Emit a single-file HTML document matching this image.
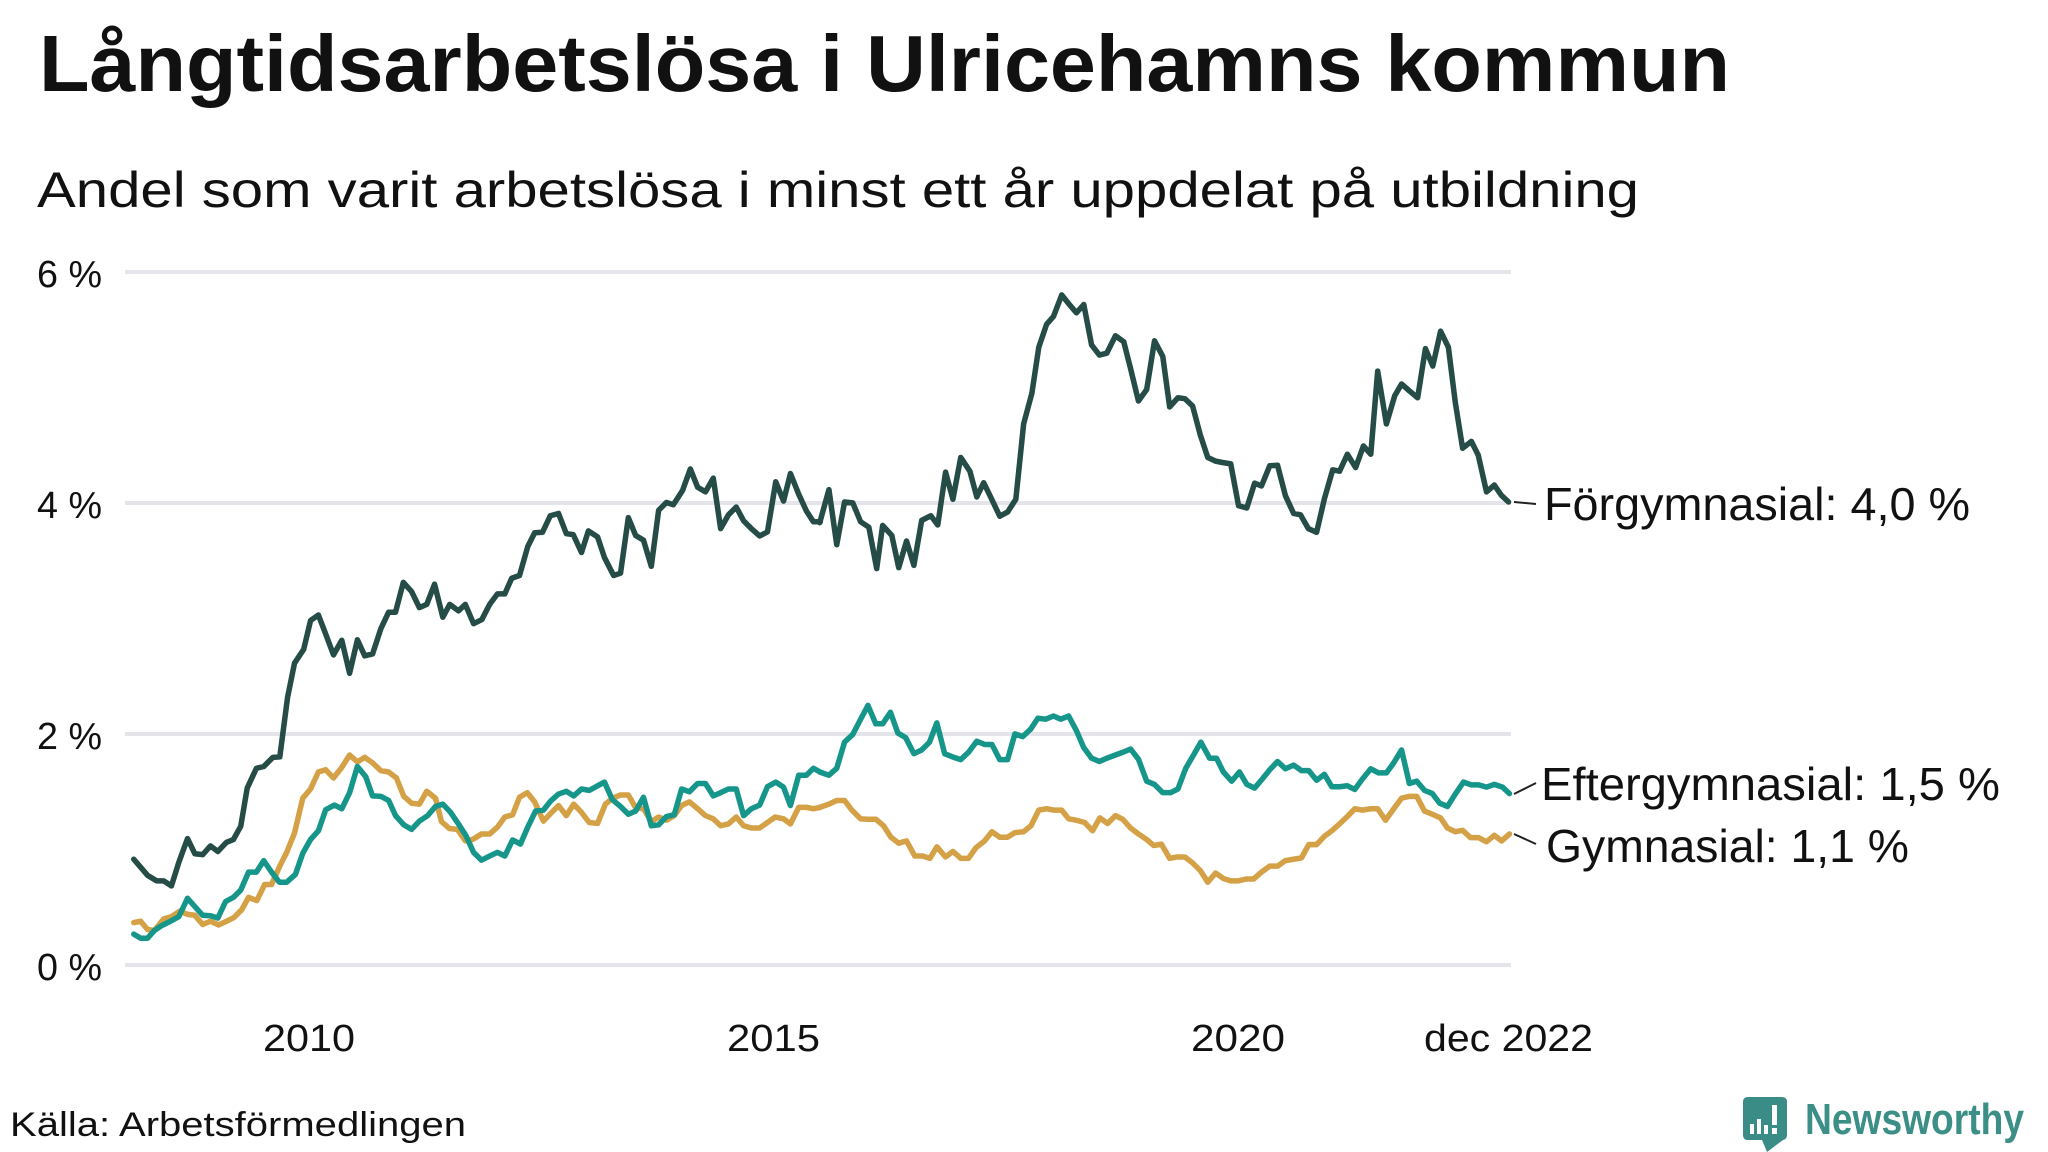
<!DOCTYPE html>
<html><head><meta charset="utf-8"><style>
html,body{margin:0;padding:0;background:#fff;}
svg{display:block;}
text{font-family:"Liberation Sans",sans-serif;}
</style></head><body>
<svg width="2048" height="1152" viewBox="0 0 2048 1152" xmlns="http://www.w3.org/2000/svg">
<rect width="2048" height="1152" fill="#fff"/>
<text x="39" y="91" font-size="80" font-weight="bold" fill="#111" textLength="1691" lengthAdjust="spacingAndGlyphs">Långtidsarbetslösa i Ulricehamns kommun</text>
<text x="37" y="207" font-size="50" fill="#111" textLength="1602" lengthAdjust="spacingAndGlyphs">Andel som varit arbetslösa i minst ett år uppdelat på utbildning</text>
<g stroke="#e4e4ea" stroke-width="4">
<line x1="125" y1="272" x2="1511" y2="272"/>
<line x1="125" y1="503" x2="1511" y2="503"/>
<line x1="125" y1="734" x2="1511" y2="734"/>
<line x1="125" y1="965" x2="1511" y2="965"/>
</g>
<g font-size="38" fill="#111">
<text x="37" y="287" textLength="65" lengthAdjust="spacingAndGlyphs">6 %</text>
<text x="37" y="518" textLength="65" lengthAdjust="spacingAndGlyphs">4 %</text>
<text x="37" y="749" textLength="65" lengthAdjust="spacingAndGlyphs">2 %</text>
<text x="37" y="980" textLength="65" lengthAdjust="spacingAndGlyphs">0 %</text>
<text x="263" y="1051" textLength="92" lengthAdjust="spacingAndGlyphs">2010</text>
<text x="727" y="1051" textLength="93" lengthAdjust="spacingAndGlyphs">2015</text>
<text x="1191" y="1051" textLength="94" lengthAdjust="spacingAndGlyphs">2020</text>
<text x="1424" y="1051" textLength="169" lengthAdjust="spacingAndGlyphs">dec 2022</text>
</g>
<g fill="none" stroke-width="12" stroke-linejoin="round" stroke-linecap="round">
<g transform="translate(120,260) scale(0.4592)">
<polyline stroke="#d4a146" points="30,1443 45,1440 60,1458 75,1460 95,1435 112,1430 130,1418 147,1425 163,1427 180,1447 197,1440 215,1448 232,1440 248,1432 265,1415 280,1388 298,1395 315,1360 330,1360 347,1322 363,1290 380,1248 398,1172 415,1152 432,1115 448,1110 465,1128 483,1105 500,1078 517,1093 533,1083 550,1095 568,1112 585,1115 602,1128 618,1168 635,1183 652,1185 668,1157 687,1172 700,1223 717,1238 735,1240 752,1265 768,1262 787,1250 805,1250 822,1235 838,1213 855,1208 870,1170 887,1160 903,1180 922,1222 938,1205 955,1188 972,1210 988,1185 1005,1203 1022,1225 1040,1227 1057,1185 1073,1172 1090,1165 1107,1165 1123,1193 1140,1195 1157,1223 1173,1213 1190,1220 1207,1210 1223,1188 1240,1180 1258,1195 1275,1210 1292,1217 1308,1232 1325,1228 1342,1213 1358,1232 1375,1237 1393,1237 1410,1225 1427,1213 1445,1217 1460,1228 1478,1192 1495,1192 1510,1195 1525,1192"/>
<polyline stroke="#16968a" points="30,1468 45,1477 60,1477 75,1460 90,1450 110,1440 128,1430 147,1390 163,1408 180,1427 197,1428 213,1433 230,1397 247,1388 263,1372 280,1333 297,1333 313,1308 330,1333 347,1355 363,1355 382,1338 398,1292 415,1262 432,1243 448,1197 467,1187 483,1195 500,1160 517,1103 535,1125 550,1167 568,1168 585,1177 600,1210 618,1230 635,1240 652,1222 670,1210 687,1190 703,1185 720,1203 737,1228 753,1253 770,1290 787,1307 805,1298 822,1290 838,1298 855,1263 872,1272 888,1235 905,1200 922,1198 938,1178 955,1163 972,1157 988,1167 1005,1152 1022,1155 1040,1145 1055,1137 1072,1175 1090,1190 1107,1207 1123,1200 1140,1170 1157,1232 1173,1230 1190,1212 1207,1208 1223,1152 1240,1158 1258,1140 1275,1140 1292,1167 1308,1160 1325,1152 1342,1152 1358,1210 1375,1195 1393,1187 1410,1147 1428,1137 1445,1148 1460,1188 1478,1122 1495,1122 1510,1107 1525,1115"/>
<polyline stroke="#254c46" points="30,1305 60,1340 80,1352 95,1352 112,1363 128,1312 147,1260 163,1293 180,1295 197,1276 213,1288 232,1268 247,1262 263,1233 277,1150 297,1107 313,1103 333,1083 348,1082 365,952 380,878 400,848 415,785 432,773 447,812 465,860 483,828 500,900 517,827 533,862 550,858 568,803 585,767 600,767 617,702 635,722 652,757 668,750 685,706 703,778 718,750 737,764 752,750 770,792 788,783 805,750 822,727 838,727 853,693 870,687 888,624 903,594 920,593 937,557 955,552 972,596 987,598 1005,637 1020,590 1040,603 1055,648 1075,687 1090,682 1107,561 1123,600 1140,610 1157,667 1173,545 1190,528 1205,533 1225,502 1242,455 1258,495 1275,505 1292,475 1308,585 1325,555 1342,538 1358,568 1375,585 1393,601 1410,592 1428,483 1445,525 1460,465 1478,510 1495,547 1510,570 1525,570"/>
</g>
<g transform="translate(800,260) scale(0.4592)">
<polyline stroke="#d4a146" points="43,1192 63,1185 80,1177 97,1177 113,1198 132,1217 148,1218 165,1218 182,1232 198,1257 215,1270 232,1265 250,1298 267,1298 283,1303 298,1278 317,1300 333,1288 350,1303 367,1303 383,1280 402,1265 418,1245 435,1257 452,1257 468,1247 487,1245 503,1232 520,1198 537,1195 553,1198 570,1198 585,1217 602,1220 620,1225 637,1243 653,1215 670,1227 687,1210 703,1218 720,1237 737,1250 755,1262 770,1275 787,1272 805,1303 822,1300 838,1300 855,1313 872,1330 888,1355 905,1335 922,1347 938,1352 955,1352 972,1348 988,1348 1005,1333 1023,1320 1040,1320 1057,1308 1075,1305 1092,1302 1108,1273 1125,1273 1142,1255 1158,1243 1175,1228 1192,1212 1208,1195 1225,1198 1243,1195 1258,1195 1275,1220 1293,1195 1310,1172 1327,1168 1343,1168 1360,1200 1377,1207 1395,1215 1410,1237 1427,1245 1443,1242 1460,1258 1478,1258 1495,1267 1512,1253 1528,1265 1545,1250"/>
<polyline stroke="#16968a" points="43,1115 63,1122 80,1107 97,1050 115,1033 132,1000 148,970 165,1010 180,1010 197,985 213,1030 230,1040 248,1075 265,1067 282,1050 298,1008 315,1075 332,1082 350,1088 367,1072 385,1048 402,1055 418,1055 435,1088 452,1088 468,1032 485,1038 502,1022 518,998 535,1000 552,993 568,1000 585,993 602,1025 618,1062 635,1085 652,1092 668,1085 687,1078 703,1072 720,1065 737,1087 755,1135 772,1142 790,1160 807,1160 823,1152 840,1107 857,1078 873,1050 892,1085 907,1085 922,1115 940,1135 957,1115 973,1142 990,1150 1007,1130 1023,1110 1040,1092 1057,1108 1075,1100 1092,1112 1108,1112 1125,1133 1142,1120 1158,1147 1175,1147 1192,1145 1208,1153 1225,1130 1243,1108 1260,1117 1277,1117 1293,1095 1310,1067 1327,1140 1343,1135 1360,1155 1377,1162 1393,1183 1410,1190 1427,1163 1445,1137 1462,1143 1478,1143 1495,1148 1512,1142 1530,1148 1545,1162"/>
<polyline stroke="#254c46" points="43,572 63,500 80,620 97,527 115,529 132,570 150,582 167,672 180,578 200,600 215,670 232,612 248,665 265,567 285,557 300,577 317,462 333,521 350,430 370,460 385,516 400,485 418,522 435,558 452,549 470,521 487,357 505,290 520,190 537,140 552,123 570,76 585,95 602,115 618,97 635,185 652,207 668,203 687,165 705,178 720,237 737,307 755,282 772,176 790,210 805,320 823,300 838,302 855,318 872,382 888,430 905,438 920,441 938,444 955,535 973,540 990,486 1005,492 1023,448 1040,447 1057,513 1075,552 1090,555 1107,585 1125,593 1142,520 1160,457 1175,460 1192,423 1210,452 1227,405 1243,423 1258,242 1277,357 1295,296 1310,270 1327,285 1345,300 1362,193 1378,231 1395,155 1412,190 1427,310 1443,410 1462,395 1477,425 1495,505 1512,490 1527,512 1543,527"/>
</g>
</g>
<g stroke="#222" stroke-width="2">
<line x1="1514" y1="502" x2="1536" y2="504"/>
<line x1="1514" y1="794" x2="1536" y2="783"/>
<line x1="1514" y1="834" x2="1536" y2="844"/>
</g>
<g font-size="46" fill="#111">
<text x="1544" y="520" textLength="426" lengthAdjust="spacingAndGlyphs">Förgymnasial: 4,0 %</text>
<text x="1541" y="800" textLength="459" lengthAdjust="spacingAndGlyphs">Eftergymnasial: 1,5 %</text>
<text x="1546" y="862" textLength="363" lengthAdjust="spacingAndGlyphs">Gymnasial: 1,1 %</text>
</g>
<text x="10" y="1136" font-size="34" fill="#111" textLength="456" lengthAdjust="spacingAndGlyphs">Källa: Arbetsförmedlingen</text>
<g>
<path d="M1748,1097 H1782 Q1787,1097 1787,1102 V1135 Q1787,1139 1783,1140 L1767,1152 L1762,1140 H1748 Q1743,1140 1743,1135 V1102 Q1743,1097 1748,1097 Z" fill="#3a8c86"/>
<g fill="#fff">
<rect x="1750" y="1124" width="4" height="10"/>
<rect x="1757" y="1119" width="4" height="15"/>
<rect x="1764" y="1125" width="4" height="9"/>
<rect x="1772" y="1105" width="5" height="20"/>
<rect x="1772" y="1128" width="5" height="6"/>
</g>
<text x="1805" y="1134" font-size="44" font-weight="bold" fill="#3b8f86" textLength="219" lengthAdjust="spacingAndGlyphs">Newsworthy</text>
</g>
</svg>
</body></html>
